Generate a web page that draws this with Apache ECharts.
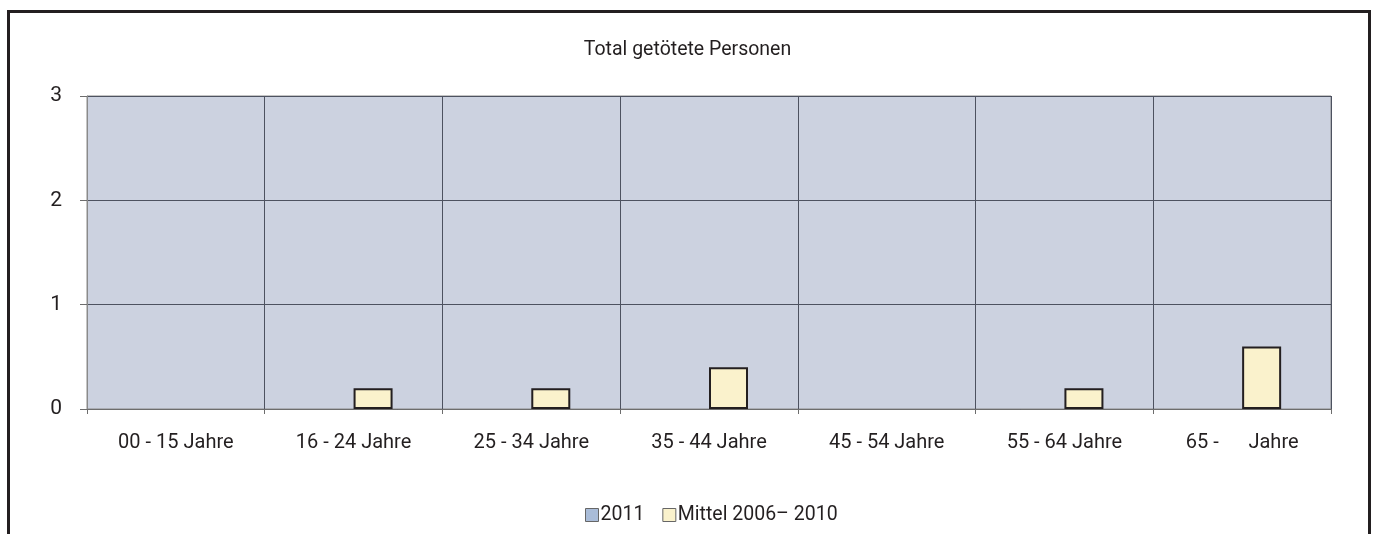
<!DOCTYPE html>
<html>
<head>
<meta charset="utf-8">
<script src="https://cdn.jsdelivr.net/npm/echarts@6/dist/echarts.min.js"></script>
<style>
  html, body { margin: 0; padding: 0; background: #fff; }
  #chart { width: 1375px; height: 534px; }
</style>
</head>
<body>
<div id="chart"></div>
<script>
// Age groups and fatalities per group
const categories = ['00 - 15 Jahre', '16 - 24 Jahre', '25 - 34 Jahre', '35 - 44 Jahre', '45 - 54 Jahre', '55 - 64 Jahre', '65 -      Jahre'];
const values2011 = [0, 0, 0, 0, 0, 0, 0];
const valuesMittel = [0, 0.2, 0.2, 0.4, 0, 0.2, 0.6];
const seriesNames = ['2011', 'Mittel 2006\u2013 2010'];
const titleText = 'Total getötete Personen';

const font = 'Roboto, "Noto Sans", sans-serif';
const ink = '#231f20';

// zero-height bars get no outline, so nothing is drawn for them
function barItems(values) {
  return values.map(v => v === 0 ? { value: v, itemStyle: { borderWidth: 0 } } : v);
}

const chart = echarts.init(document.getElementById('chart'), null, { renderer: 'canvas' });

chart.setOption({
  animation: false,
  backgroundColor: '#ffffff',
  textStyle: { fontFamily: font, color: ink },
  graphic: [{
    type: 'rect',
    shape: { x: 8.5, y: 11.5, width: 1361, height: 600 },
    style: { fill: 'none', stroke: ink, lineWidth: 3 },
    silent: true
  }],
  title: {
    text: titleText,
    left: 'center',
    top: 35,
    textStyle: { fontFamily: font, fontSize: 19.5, fontWeight: 'normal', color: ink }
  },
  legend: {
    top: 500,
    left: 580,
    itemWidth: 13,
    itemHeight: 13,
    itemGap: 18,
    icon: 'rect',
    itemStyle: { borderColor: '#666666', borderWidth: 1 },
    textStyle: { fontFamily: font, fontSize: 19.5, color: ink, padding: [0, 0, 0, -3] },
    data: seriesNames
  },
  grid: {
    left: 87,
    right: 44,
    top: 96,
    bottom: 125,
    show: true,
    backgroundColor: '#ccd2e0',
    borderColor: '#8a8a8a',
    borderWidth: 1
  },
  xAxis: {
    type: 'category',
    data: categories,
    boundaryGap: true,
    axisLine: { show: true, lineStyle: { color: '#6d6d6d', width: 1 } },
    axisTick: { show: true, length: 5, lineStyle: { color: '#6d6d6d' } },
    axisLabel: { margin: 24, fontFamily: font, fontSize: 20, color: ink },
    splitLine: { show: true, lineStyle: { color: '#4d5260', width: 1 } }
  },
  yAxis: {
    type: 'value',
    min: 0,
    max: 3,
    interval: 1,
    axisLine: { show: true, lineStyle: { color: '#8a8a8a', width: 1 } },
    axisTick: { show: true, length: 7, lineStyle: { color: '#6d6d6d' } },
    axisLabel: { margin: 25, fontFamily: font, fontSize: 21, color: ink },
    splitLine: { show: true, lineStyle: { color: '#4d5260', width: 1 } }
  },
  series: [
    {
      name: seriesNames[0],
      type: 'bar',
      data: barItems(values2011),
      barWidth: 39,
      barGap: '0%',
      itemStyle: { color: '#a9bcd8', borderColor: ink, borderWidth: 2 }
    },
    {
      name: seriesNames[1],
      type: 'bar',
      data: barItems(valuesMittel),
      barWidth: 39,
      barGap: '0%',
      itemStyle: { color: '#faf2cc', borderColor: ink, borderWidth: 2 }
    }
  ]
});
</script>
</body>
</html>
